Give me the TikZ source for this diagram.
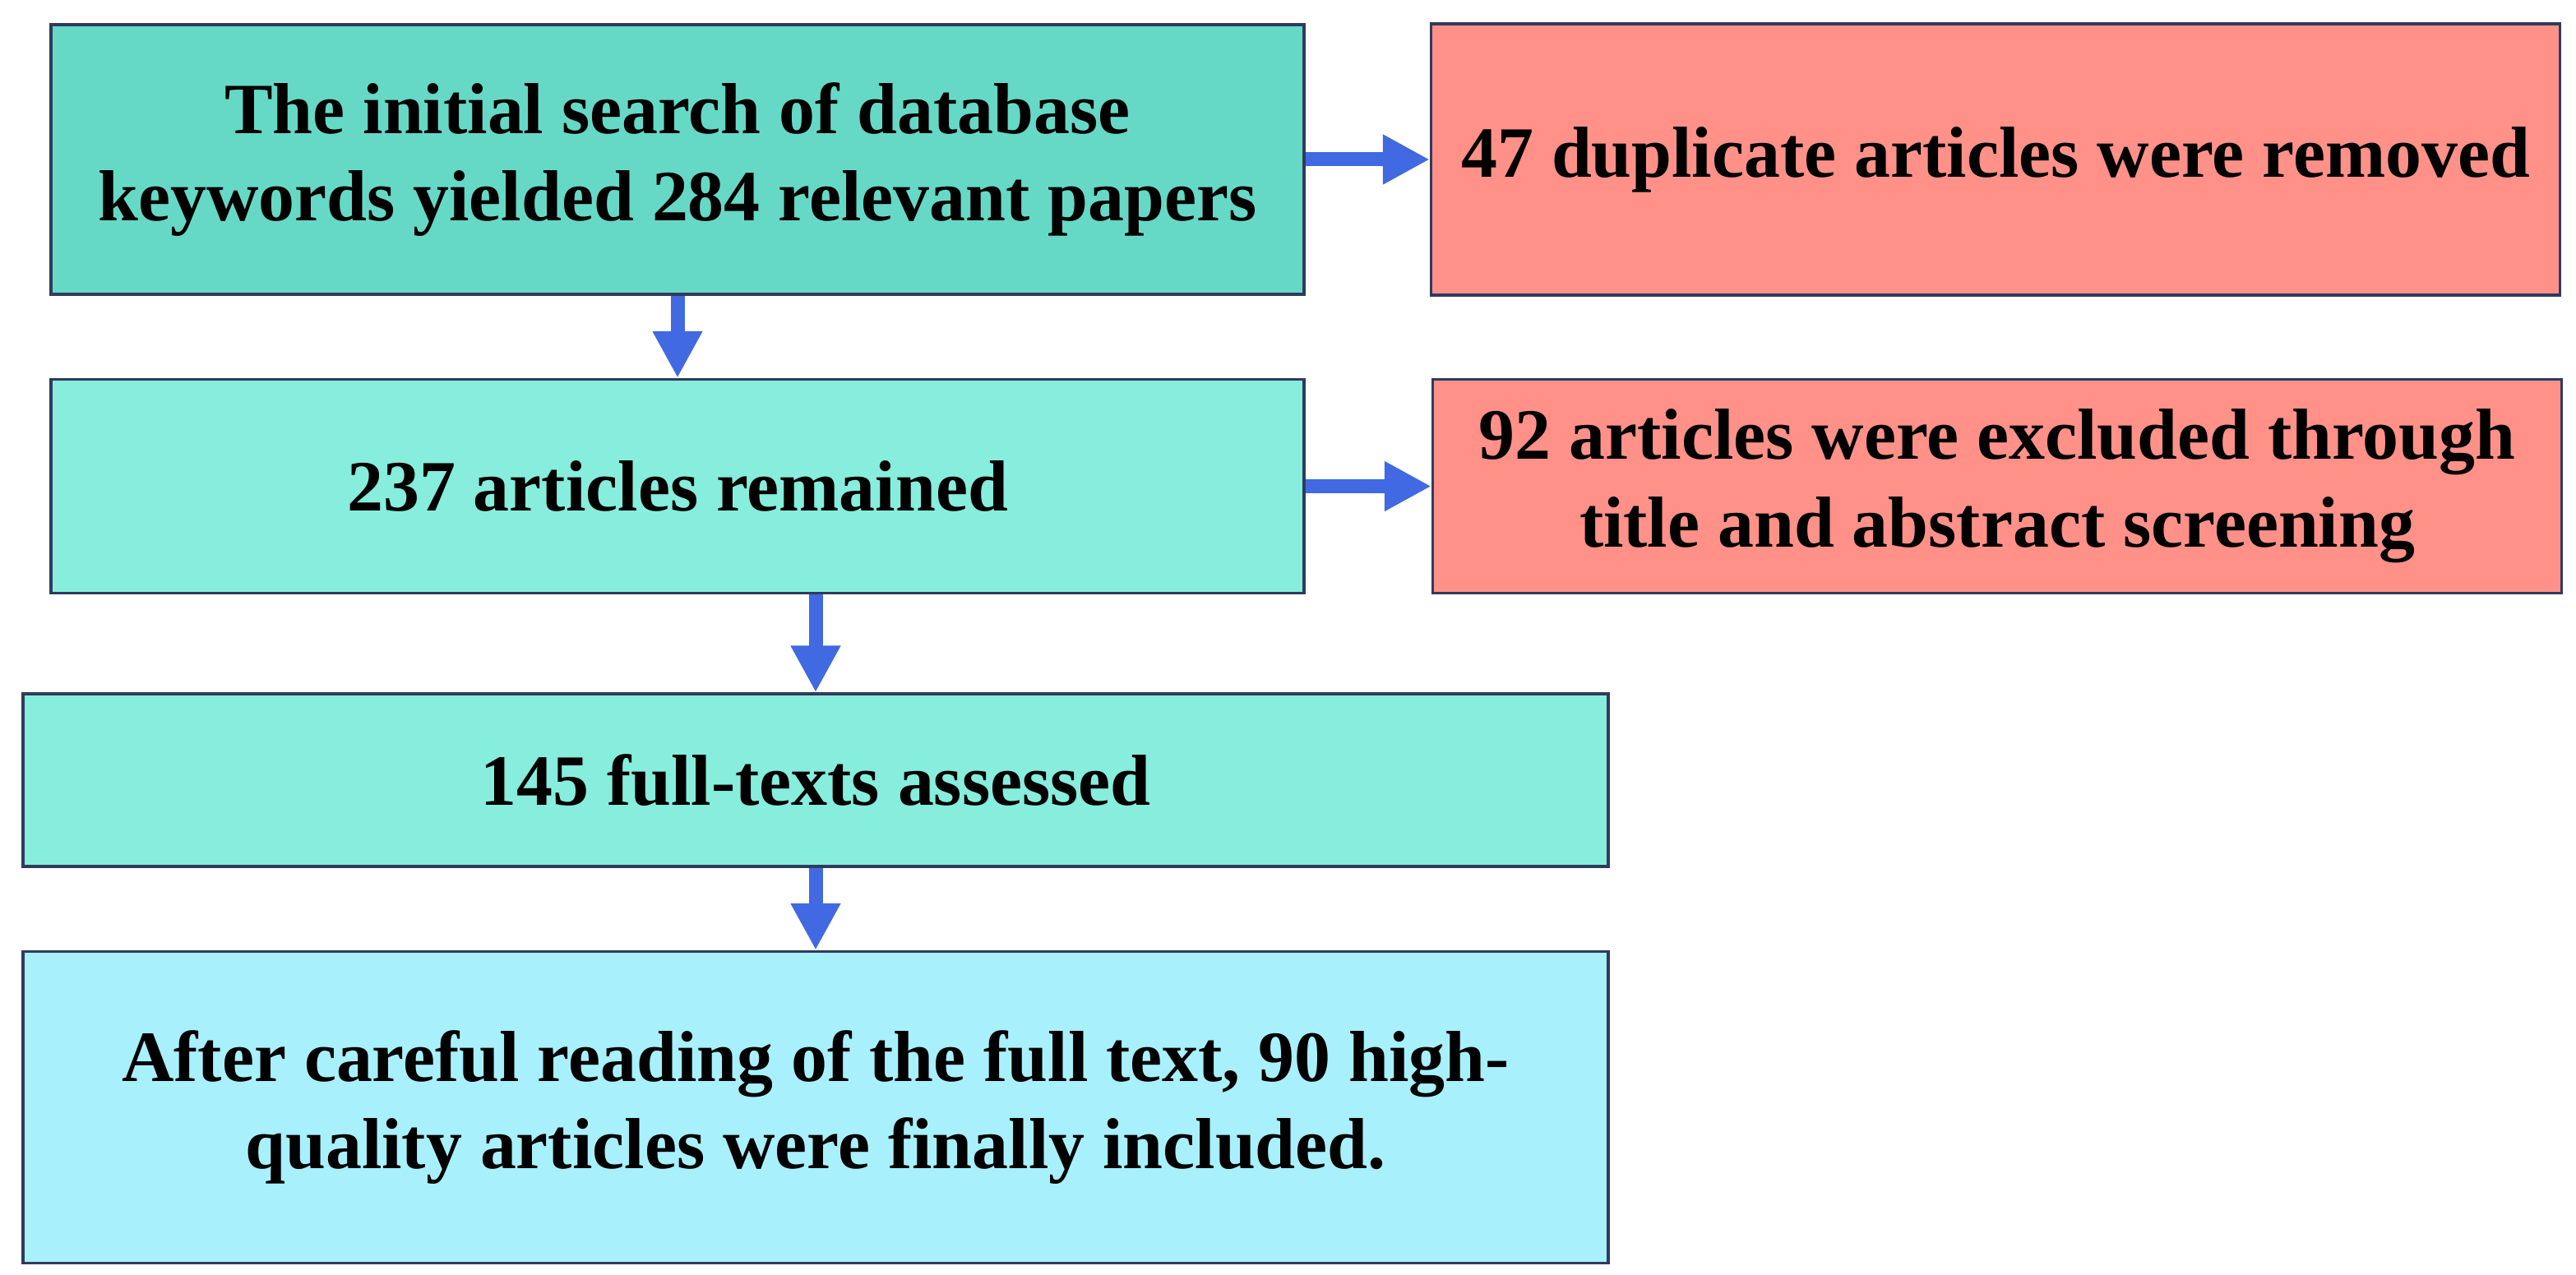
\documentclass[tikz,border=0pt]{standalone}
\usepackage{fontspec}
\setmainfont{Liberation Serif}
\usepackage{xcolor}
\usepackage{tikz}
\usetikzlibrary{positioning,arrows.meta}

\definecolor{tealA}{HTML}{66D9C6}
\definecolor{tealB}{HTML}{87EDDC}
\definecolor{cyanC}{HTML}{A8F0FC}
\definecolor{salmon}{HTML}{FF9189}
\definecolor{frame}{HTML}{2F3B5E}
\definecolor{royal}{HTML}{4169E1}

\begin{document}
\begin{tikzpicture}[node distance={1cm}, line width=1pt,
        main/.style = {draw=frame, rectangle, align=center, inner sep=0pt,
            font=\fontsize{25}{30.4}\selectfont\bfseries},
        excl/.style = {main, fill=salmon, minimum width=13.73cm},
        arr/.style = {draw=royal, line width=0.17cm,
            -{Triangle[width=0.57cm,length=0.57cm]}}]
        \useasboundingbox (0,0) rectangle (31.33,-15.51);
        \node[main, fill=tealA, minimum width=15.24cm, minimum height=3.28cm] (1) at (8.24,-1.94) {The initial search of database\\keywords yielded 284 relevant papers};
        \node[main, fill=tealB, minimum width=15.24cm, minimum height=2.60cm] (2) [below=of 1] {237 articles remained};
        \node[excl, minimum height=3.30cm] (5) [right=1.51cm of 1] {47 duplicate articles were removed};
        \node[excl, minimum height=2.60cm] (6) [right=1.53cm of 2] {92 articles were excluded through\\title and abstract screening};
        \node[main, fill=tealB, minimum width=19.28cm, minimum height=2.10cm] (3) [below=1.19cm of 2.south west, anchor=north west, xshift=-0.34cm] {145 full-texts assessed};
        \node[main, fill=cyanC, minimum width=19.28cm, minimum height=3.79cm] (4) [below=of 3] {After careful reading of the full text, 90 high-\\quality articles were finally included.};
        \draw[arr] (1) -- (2);
        \draw[arr] (1) -- (5);
        \draw[arr] (2) -- (6);
        \draw[arr] (2.south -| 3.north) -- (3);
        \draw[arr] (3) -- (4);
    \end{tikzpicture}
\end{document}
